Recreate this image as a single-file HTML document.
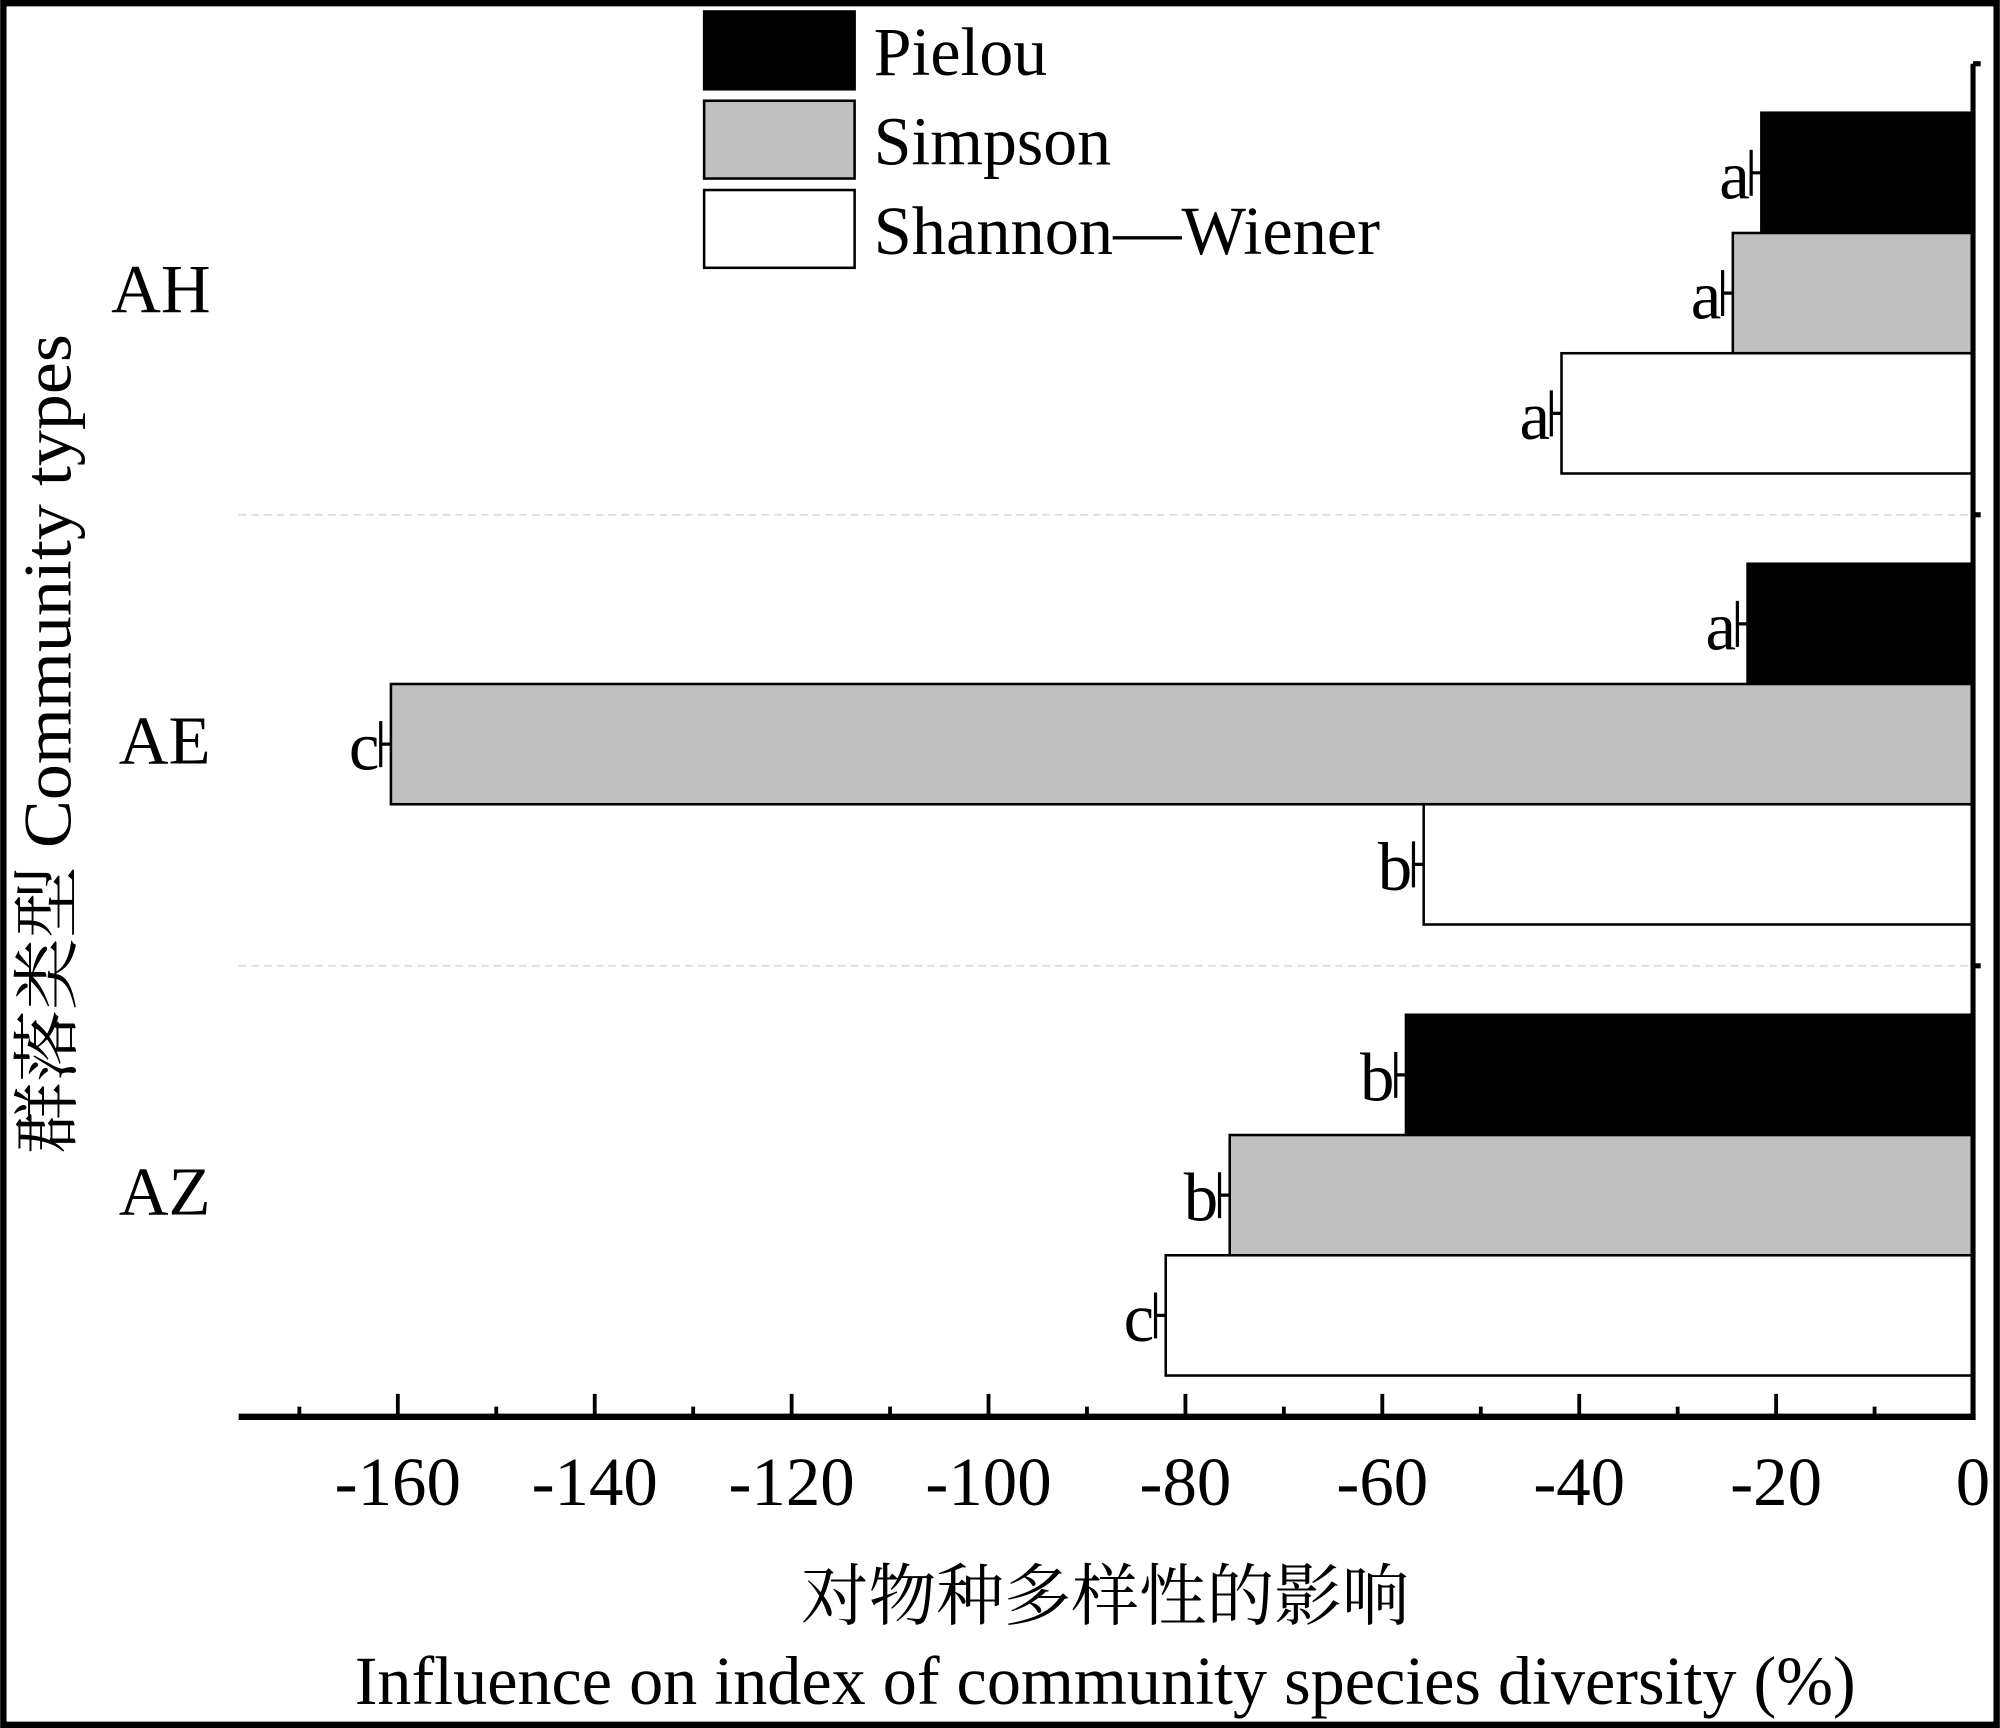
<!DOCTYPE html>
<html><head><meta charset="utf-8"><style>
html,body{margin:0;padding:0;background:#fff;}
svg{display:block;}
text{font-family:"Liberation Serif","Noto Serif CJK SC",serif;fill:#000;}
</style></head><body>
<svg id="chart" width="2000" height="1728" viewBox="0 0 1568 1355" xmlns="http://www.w3.org/2000/svg">
<rect x="2.5" y="2.5" width="1563" height="1350" fill="#fff" stroke="#000" stroke-width="5"/>
<g id="grid"></g>
<g id="bars"></g>
<g id="axes"></g>
<g>
<rect x="552" y="9" width="118" height="61" fill="#000" stroke="#000" stroke-width="2"/>
<text x="685" y="59" font-size="54" textLength="136" lengthAdjust="spacingAndGlyphs">Pielou</text>
<rect x="552" y="79" width="118" height="61" fill="#c0c0c0" stroke="#000" stroke-width="2"/>
<text x="685" y="129" font-size="54" textLength="186" lengthAdjust="spacingAndGlyphs">Simpson</text>
<rect x="552" y="149" width="118" height="61" fill="#fff" stroke="#000" stroke-width="2"/>
<text x="685" y="199" font-size="54" textLength="397" lengthAdjust="spacingAndGlyphs">Shannon—Wiener</text>
</g>
<text x="628" y="1270" font-size="53" textLength="477" lengthAdjust="spacingAndGlyphs">对物种多样性的影响</text>
<text x="278" y="1336" font-size="54" textLength="1177" lengthAdjust="spacingAndGlyphs">Influence on index of community species diversity (%)</text>
<text transform="translate(55,905) rotate(-90)" font-size="53" textLength="643" lengthAdjust="spacingAndGlyphs">群落类型 Community types</text>
</svg>
<script>
const categories = ["AH","AE","AZ"];
const seriesNames = ["Pielou","Simpson","Shannon—Wiener"];
const pielou = [-21.5,-22.9,-57.6];
const simpson = [-24.4,-160.7,-75.5];
const shannon = [-41.8,-55.8,-82.0];
const pielouLetters = ["a","a","b"];
const simpsonLetters = ["a","c","b"];
const shannonLetters = ["a","b","c"];
const xTicks = [-160,-140,-120,-100,-80,-60,-40,-20,0];
const xMinorTicks = [-170,-150,-130,-110,-90,-70,-50,-30,-10];

const NS="http://www.w3.org/2000/svg";
const x0=1547, perUnit=7.72, axisY=1111, plotTop=50, plotLeft=187;
function xs(v){return x0+v*perUnit;}
const catH=(axisY-plotTop)/categories.length;
function cy(i){return plotTop+catH*(i+0.5);}
function mk(tag,attrs,parent){const e=document.createElementNS(NS,tag);for(const k in attrs)e.setAttribute(k,attrs[k]);parent.appendChild(e);return e;}
const gBars=document.getElementById('bars'),gAxes=document.getElementById('axes'),gGrid=document.getElementById('grid');
const series=[[pielou,pielouLetters,"#000","pielou"],[simpson,simpsonLetters,"#c0c0c0","simpson"],[shannon,shannonLetters,"#fff","shannon"]];
const barH=94.3;
categories.forEach((c,i)=>{
  const top=cy(i)-barH*1.5+3;
  series.forEach((s,j)=>{
    const v=s[0][i], y=top+j*barH, xl=xs(v);
    const r=mk('rect',{x:xl,y:y,width:x0-xl,height:barH,fill:s[2],stroke:"#000","stroke-width":2},gBars);
    
    
    const my=y+barH/2, ex=xl-8;
    const eb=mk('path',{d:`M${xl} ${my}H${ex}M${ex} ${my-18}V${my+18}`,stroke:"#000","stroke-width":2.5,fill:"none"},gBars);
    
    
    const t=mk('text',{x:ex-1,y:my+20,"font-size":54,"text-anchor":"end"},gBars);
    t.textContent=s[1][i];
    
    
  });
  const lab=mk('text',{x:165,y:cy(i)+18,"font-size":54,"text-anchor":"end"},gAxes);
  lab.textContent=c;
  
  
});
for(let i=1;i<categories.length;i++){
  const y=plotTop+catH*i;
  const g=mk('line',{x1:plotLeft,x2:x0,y1:y,y2:y,stroke:"#ddd","stroke-width":1.5,"stroke-dasharray":"6 4"},gGrid);
  
  
}
for(let i=0;i<categories.length;i++){
  const y=plotTop+catH*i;
  const t=mk('line',{x1:x0,x2:x0+6,y1:y,y2:y,stroke:"#000","stroke-width":4},gAxes);
  
  
}
const ax=mk('line',{x1:plotLeft,x2:x0+2,y1:axisY,y2:axisY,stroke:"#000","stroke-width":5},gAxes);


const ra=mk('line',{x1:x0,x2:x0,y1:plotTop,y2:axisY+2,stroke:"#000","stroke-width":4},gAxes);


xTicks.forEach(v=>{
  const t=mk('line',{x1:xs(v),x2:xs(v),y1:axisY,y2:axisY-18,stroke:"#000","stroke-width":3},gAxes);
  
  
  const l=mk('text',{x:xs(v),y:1180,"font-size":54,"text-anchor":"middle"},gAxes);
  l.textContent=String(v);
  
  
});
xMinorTicks.forEach(v=>{
  const t=mk('line',{x1:xs(v),x2:xs(v),y1:axisY,y2:axisY-8,stroke:"#000","stroke-width":3},gAxes);
  
  
});
</script>
</body></html>
